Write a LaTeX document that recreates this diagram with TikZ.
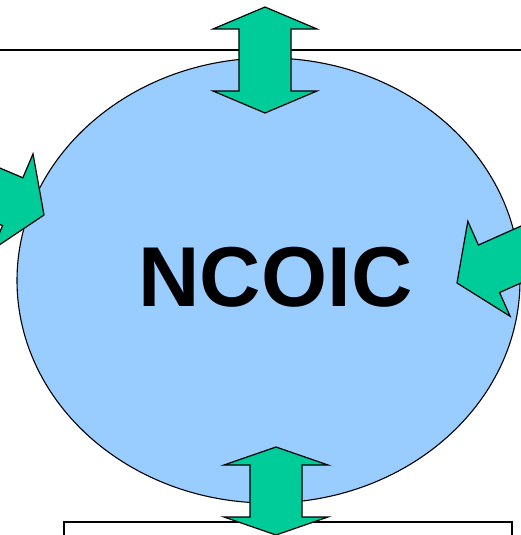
\documentclass[tikz,border=0pt]{standalone}
\usepackage{fontspec}
\setmainfont{Liberation Sans}
\usepackage{tikz}
\usetikzlibrary{shapes,positioning}
\definecolor{bubble}{HTML}{99CCFF}
\definecolor{arrowgreen}{HTML}{00CC99}
\tikzset{frame/.style={draw=black,line width=1.2pt},
  arrowfill/.style={draw=black,fill=arrowgreen,line width=1.2pt,line join=miter},
  pics/dblarrow/.style 2 args={code={
    \draw[arrowfill] (0,-#1) -- (52,-#1+#2) -- (26,-#1+#2) -- (26,#1-#2) -- (52,#1-#2)
      -- (0,#1) -- (-52,#1-#2) -- (-26,#1-#2) -- (-26,-#1+#2) -- (-52,-#1+#2) -- cycle;}},
  pics/onearrow/.style={code={
    \draw[arrowfill] (0,0) -- (-#1,-52) -- (-#1,-26) -- (-220,-26) -- (-220,26)
      -- (-#1,26) -- (-#1,52) -- cycle;}}}

\begin{document}
\begin{tikzpicture}[x=1pt,y=-1pt]
    \useasboundingbox (0,0) rectangle (521,535);
    \clip (0,0) rectangle (521,535);

    % frames behind the bubble
    \coordinate (topL) at (0,50);
    \coordinate (topR) at (521,50);
    \draw[frame] (topL) -- (topR);
    \coordinate (boxL) at (64,522);
    \coordinate (boxR) at (512,522);
    \draw[frame] (boxL) ++(0,30) -- (boxL) -- (boxR) -- ++(0,30);

    \node[ellipse,draw,fill=bubble,line width=1.1pt,inner sep=0pt,
          minimum width=503pt,minimum height=445pt] (ncoic) at (268.5,280.5) {};
    \node[anchor=base,inner sep=0pt,font=\bfseries\fontsize{85}{88}\selectfont]
          (ncoictext) at (275.5,306) {NCOIC};

    % green arrows
    \pic at (265,60) {dblarrow={53}{22}};
    \pic at (276,491) {dblarrow={44}{18}};
    \pic[rotate=-23] at (44,215) {onearrow=34};
    \pic[rotate=204] at (457,283) {onearrow=35};
  \end{tikzpicture}
\end{document}
